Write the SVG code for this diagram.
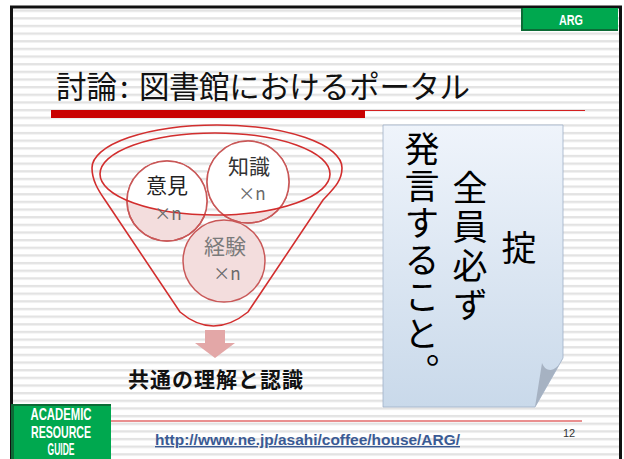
<svg xmlns="http://www.w3.org/2000/svg" width="624" height="459" viewBox="0 0 624 459">
<defs>
<pattern id="stripes" x="0" y="9.5" width="20" height="7.65" patternUnits="userSpaceOnUse">
<rect x="0" y="0" width="20" height="2.4" fill="#e3e3e3"/>
</pattern>
<linearGradient id="noteGrad" x1="0" y1="0" x2="0" y2="1">
<stop offset="0" stop-color="#eff4fb"/>
<stop offset="1" stop-color="#c9d9ea"/>
</linearGradient>
<clipPath id="rimClip">
<ellipse cx="215" cy="174" rx="115" ry="41"/>
</clipPath>
<style>
.jp{font-family:"Noto Sans CJK JP","Noto Sans CJK SC",sans-serif}
.lab{font-family:"Liberation Sans Narrow","Liberation Sans",Arial,sans-serif;font-weight:bold;fill:#fff}
.circ{fill:#f3dddd;stroke:#c95858;stroke-width:1.5}
.circW{fill:#fff}
.circS{fill:none;stroke:#c95858;stroke-width:1.5}
.red{fill:none;stroke:#d22e2e;stroke-width:1.6}
.lbl{font-size:21px;text-anchor:middle}
.xn{font-size:17px;text-anchor:middle;fill:#6a6a6a}
.vt{font-size:35px;fill:#000;writing-mode:vertical-rl}
</style>
</defs>

<!-- background / frame -->
<rect x="0" y="0" width="624" height="459" fill="#fff"/>
<rect x="11.5" y="7" width="609" height="460" fill="#fff"/>
<rect x="11.5" y="7" width="609" height="460" fill="url(#stripes)" stroke="#111" stroke-width="3"/>

<g id="header">
<rect x="521" y="8" width="97" height="23" fill="#0c6b36"/>
<rect x="523" y="8" width="95" height="21" fill="#00a84f"/>
<text class="lab" x="571" y="25" font-size="15" text-anchor="middle" textLength="24" lengthAdjust="spacingAndGlyphs">ARG</text>
</g>

<g id="title">
<text class="jp" x="56" y="98" font-size="30.5" fill="#111">討論</text>
<text class="jp" x="120" y="98" font-size="30.5" fill="#111">:</text>
<text class="jp" x="139" y="98" font-size="30.5" fill="#111" textLength="331" lengthAdjust="spacing">図書館におけるポータル</text>
<rect x="51" y="110" width="314" height="8" fill="#c90000"/>
<line x1="365" y1="110.5" x2="585" y2="110.5" stroke="#d42020" stroke-width="1"/>
</g>

<g id="funnel">
<path class="red" d="M92,168 A125,43 0 0 1 342,168 C342,182 332,190 323,200 L248,312 Q213,340 180,312 L105,200 C98,190 92,180 92,168 Z"/>
</g>

<g id="circles">
<circle class="circ" cx="167" cy="201" r="40"/>
<circle class="circ" cx="248" cy="182" r="41"/>
<circle class="circ" cx="224" cy="261" r="41"/>
<g clip-path="url(#rimClip)">
<circle class="circW" cx="167" cy="201" r="40"/>
<circle class="circW" cx="248" cy="182" r="41"/>
</g>
<circle class="circS" cx="167" cy="201" r="40"/>
<circle class="circS" cx="248" cy="182" r="41"/>
</g>

<g id="rim">
<ellipse class="red" cx="215" cy="174" rx="115" ry="41"/>
</g>

<g id="node-iken">
<text class="jp lbl" x="167" y="193" fill="#222">意見</text>
<text class="jp xn" x="168" y="220">×n</text>
</g>
<g id="node-chishiki">
<text class="jp lbl" x="249" y="174" fill="#333">知識</text>
<text class="jp xn" x="252" y="200">×n</text>
</g>
<g id="node-keiken">
<text class="jp lbl" x="225" y="254" fill="#7a7a7a">経験</text>
<text class="jp xn" x="227" y="280">×n</text>
</g>

<g id="arrow">
<path d="M205,330 H225 V343 H235 L215,358 L195,343 H205 Z" fill="#e3a7a7"/>
</g>

<g id="result">
<text class="jp" x="128" y="387" font-size="21" font-weight="bold" fill="#111" textLength="175" lengthAdjust="spacing">共通の理解と認識</text>
</g>

<g id="note">
<path d="M383,125 H563 V358 L535,407 H383 Z" fill="url(#noteGrad)" stroke="#9fb0c8" stroke-width="0.8"/>
<path d="M563,358 C556,373 546,373 542,363 L535,407 Z" fill="#a6b2c2"/>
<text class="jp vt" x="422" y="131" letter-spacing="2">発言すること。</text>
<text class="jp vt" x="470" y="170" letter-spacing="4">全員必ず</text>
<text class="jp vt" x="519" y="230">掟</text>
</g>

<g id="footer">
<rect x="11" y="404" width="100" height="60" fill="#0c6b36"/>
<rect x="14" y="406" width="97" height="58" fill="#00a84f"/>
<text class="lab" x="61" y="420" font-size="17" text-anchor="middle" textLength="61" lengthAdjust="spacingAndGlyphs">ACADEMIC</text>
<text class="lab" x="61" y="438" font-size="17" text-anchor="middle" textLength="60" lengthAdjust="spacingAndGlyphs">RESOURCE</text>
<text class="lab" x="61" y="455" font-size="16" text-anchor="middle" textLength="27" lengthAdjust="spacingAndGlyphs">GUIDE</text>
<line x1="111" y1="421" x2="582" y2="421" stroke="#d42020" stroke-width="1"/>
<text x="563" y="437" font-family="Liberation Sans, Arial, sans-serif" font-size="11" fill="#333">12</text>
<text x="155" y="445" font-family="Liberation Sans, Arial, sans-serif" font-size="14" font-weight="bold" fill="#3a5a94" text-decoration="underline" textLength="305" lengthAdjust="spacingAndGlyphs">http://www.ne.jp/asahi/coffee/house/ARG/</text>
</g>
</svg>
